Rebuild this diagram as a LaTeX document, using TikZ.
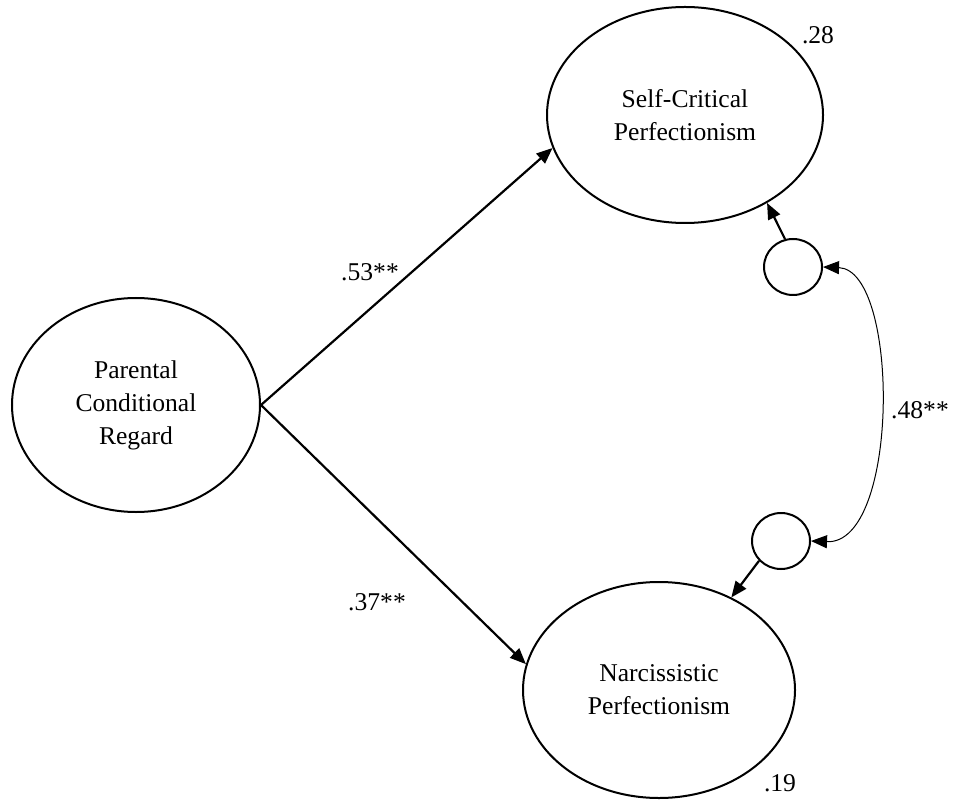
\documentclass[tikz,border=0pt]{standalone}
\usepackage{fontspec}
\setmainfont{Liberation Serif}
\usepackage{tikz}
\usetikzlibrary{shapes.geometric,arrows.meta}

\tikzset{
  latent/.style={draw,ellipse,line width=1pt,inner sep=0pt,align=center},
  errvar/.style={draw,ellipse,line width=1pt,inner sep=0pt,minimum width=29pt,minimum height=28pt},
  path/.style={line width=1.1pt,-{Triangle[length=8pt,width=6.5pt]}},
  cov/.style={line width=0.5pt,{Triangle[length=8pt,width=6.5pt]}-{Triangle[length=8pt,width=6.5pt]}},
  coef/.style={inner sep=0pt}
}

\begin{document}
\begin{tikzpicture}[x=0.5pt,y=-0.5pt,font=\fontsize{12.8}{16.5}\selectfont]
       \useasboundingbox (0,0) rectangle (956,801);
       % latent variables
       \node[latent,minimum width=124pt,minimum height=107pt] (pcr) at (136,405) {Parental\\Conditional\\Regard};
       \node[latent,minimum width=138pt,minimum height=108pt] (scp) at (685,115) {Self-Critical\\Perfectionism};
       \node[latent,minimum width=136pt,minimum height=108pt] (np) at (659,690) {Narcissistic\\Perfectionism};
       % disturbances
       \node[errvar] (e1) at (793,267) {};
       \node[errvar] (e2) at (781,541) {};
       % paths
       \draw[path] (pcr.east) -- (scp.194);
       \draw[path] (pcr.east) -- (np.169);
       \draw[path] (e1.106) -- (scp.313);
       \draw[path] (e2.222) -- (np.52);
       \draw[cov] (e1.east) .. controls (900,270) and (900,545) .. (e2.east);
       % coefficients
       \node[coef] (b1) at (370,272) {.53**};
       \node[coef] (b2) at (377,602) {.37**};
       \node[coef] (r12) at (920,410) {.48**};
       \node[coef] (r2a) at (818,35) {.28};
       \node[coef] (r2b) at (780,783) {.19};
      \end{tikzpicture}
\end{document}
